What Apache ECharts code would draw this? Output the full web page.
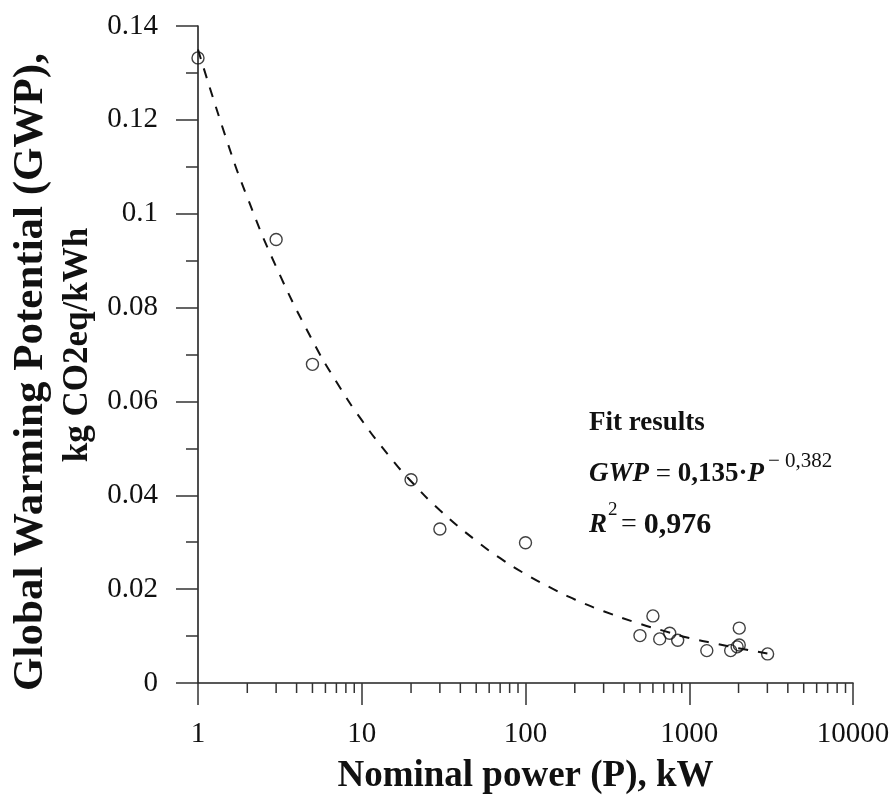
<!DOCTYPE html>
<html>
<head>
<meta charset="utf-8">
<script src="https://cdn.jsdelivr.net/npm/echarts@6/dist/echarts.min.js"></script>
<style>html,body{margin:0;padding:0;background:#fff}#c{width:892px;height:800px}</style>
</head>
<body>
<div id="c"></div>
<script>
// Measured points: nominal power P (kW) and GWP (kg CO2eq/kWh)
const powerKW = [1, 3, 5, 20, 30, 100, 500, 600, 660, 760, 850, 1280, 1790, 2020, 2020, 1960, 3010];
const gwp     = [0.1332, 0.0945, 0.0679, 0.0433, 0.0328, 0.0299, 0.0101, 0.0143, 0.0094, 0.0106, 0.0091, 0.0069, 0.0069, 0.0117, 0.0081, 0.0077, 0.0062];

// Dashed fit curve
const fitP   = [1, 1.5, 2, 3, 5, 7, 10, 15, 20, 30, 50, 70, 100, 150, 200, 300, 500, 700, 1000, 1500, 2000, 3000];
const fitGWP = [0.135, 0.1156, 0.1035, 0.0887, 0.0730, 0.0642, 0.0560, 0.0480, 0.0430, 0.0368, 0.0303, 0.0266, 0.0232, 0.0199, 0.0178, 0.0153, 0.0126, 0.0111, 0.0096, 0.0083, 0.0074, 0.0063];

// Axis settings
const xMin = 1, xMax = 10000;
const yMin = 0, yMax = 0.14, yStep = 0.02;
const xMinorTicks = [2,3,4,5,6,7,8,9,20,30,40,50,60,70,80,90,200,300,400,500,600,700,800,900,2000,3000,4000,5000,6000,7000,8000,9000];

const xTitle = 'Nominal power (P), kW';
const yTitleLine1 = 'Global Warming Potential (GWP),';
const yTitleLine2 = 'kg CO2eq/kWh';

const FONT = '"Liberation Serif", "Times New Roman", serif';
const INK = '#111';

const chart = echarts.init(document.getElementById('c'), null, {renderer: 'canvas'});
chart.setOption({
  backgroundColor: '#fff',
  animation: false,
  grid: {left: 198, right: 39, top: 26, bottom: 117, containLabel: false, outerBoundsMode: 'none'},
  xAxis: {
    type: 'log', logBase: 10, min: xMin, max: xMax,
    name: xTitle, nameLocation: 'middle', nameGap: 75,
    nameTextStyle: {fontFamily: FONT, fontWeight: 'bold', fontSize: 37, color: INK},
    axisLine: {show: true, onZero: false, lineStyle: {color: '#222', width: 1.6}},
    axisTick: {show: true, inside: false, length: 22, lineStyle: {color: '#333', width: 1.5}},
    minorTick: {show: false},
    splitLine: {show: false},
    axisLabel: {fontFamily: FONT, fontSize: 29, color: INK, margin: 37, formatter: v => String(v)}
  },
  yAxis: {
    type: 'value', min: yMin, max: yMax, interval: yStep,
    axisLine: {show: true, onZero: false, lineStyle: {color: '#222', width: 1.6}},
    axisTick: {show: true, inside: false, length: 22, lineStyle: {color: '#333', width: 1.5}},
    minorTick: {show: true, splitNumber: 2, length: 12, lineStyle: {color: '#333', width: 1.5}},
    splitLine: {show: false},
    axisLabel: {fontFamily: FONT, fontSize: 29, color: INK, margin: 40}
  },
  graphic: [
    {type: 'text', x: 31, y: 372, rotation: Math.PI / 2,
     style: {text: yTitleLine1, font: 'bold 43px ' + FONT, fill: INK, align: 'center', verticalAlign: 'middle'}},
    {type: 'text', x: 78, y: 345, rotation: Math.PI / 2,
     style: {text: yTitleLine2, font: 'bold 35px ' + FONT, fill: INK, align: 'center', verticalAlign: 'middle'}},
    {type: 'text', left: 589, top: 410, style: {text: 'Fit results', font: 'bold 27px ' + FONT, fill: INK}},
    {type: 'text', left: 589, top: 461, style: {
      text: '{i|GWP}{n| = }{b|0,135·}{i|P}',
      rich: {
        i: {font: 'italic bold 27px ' + FONT, fill: INK},
        n: {font: '27px ' + FONT, fill: INK},
        b: {font: 'bold 27px ' + FONT, fill: INK}
      }}},
    {type: 'text', left: 768, top: 451, style: {text: '− 0,382', font: '21px ' + FONT, fill: INK}},
    {type: 'text', left: 589, top: 512, style: {text: 'R', font: 'italic bold 27px ' + FONT, fill: INK}},
    {type: 'text', left: 608, top: 501, style: {text: '2', font: '19px ' + FONT, fill: INK}},
    {type: 'text', left: 621, top: 510, style: {
      text: '{n|= }{b|0,976}',
      rich: {
        n: {font: '28px ' + FONT, fill: INK},
        b: {font: 'bold 30px ' + FONT, fill: INK}
      }}}
  ],
  series: [
    {
      type: 'line', name: 'fit', data: fitP.map((p, i) => [p, fitGWP[i]]),
      smooth: true, showSymbol: false, symbol: 'none',
      lineStyle: {color: '#111', width: 2, type: [10, 10]},
      z: 2
    },
    {
      type: 'scatter', name: 'data', data: powerKW.map((p, i) => [p, gwp[i]]),
      symbol: 'circle', symbolSize: 12,
      itemStyle: {color: 'rgba(255,255,255,0)', borderColor: '#111', borderWidth: 1.4},
      z: 3
    },
    {
      type: 'custom', name: 'minorTicks', data: xMinorTicks.map(v => [v]),
      clip: false, silent: true, z: 4,
      renderItem: (params, api) => {
        const p = api.coord([api.value(0), yMin]);
        return {type: 'line', shape: {x1: p[0], y1: p[1], x2: p[0], y2: p[1] + 10},
                style: {stroke: '#333', lineWidth: 1.5}};
      }
    }
  ]
});
</script>
</body>
</html>
